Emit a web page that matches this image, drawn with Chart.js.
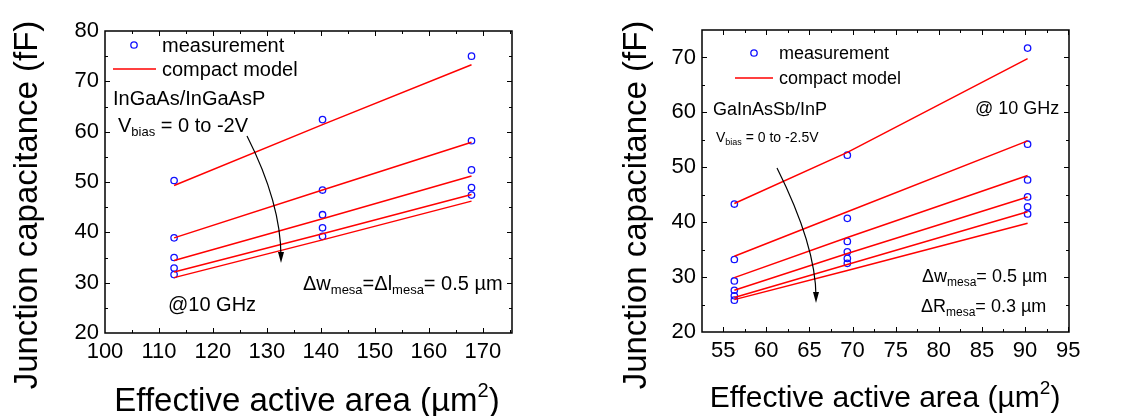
<!DOCTYPE html>
<html>
<head>
<meta charset="utf-8">
<script src="https://cdn.jsdelivr.net/npm/chart.js@4.4.0/dist/chart.umd.min.js"></script>
<style>
html, body { margin: 0; padding: 0; background: #fff; }
#wrap { position: relative; width: 1139px; height: 416px; }
.box { position: absolute; top: 0; height: 416px; }
</style>
</head>
<body>
<div id="wrap">
  <div class="box" style="left:0;width:560px"><canvas id="left"></canvas></div>
  <div class="box" style="left:560px;width:579px"><canvas id="right"></canvas></div>
</div>
<script>
// ---- left panel: InGaAs/InGaAsP, Vbias 0 .. -2V ----
const leftArea = [112.8, 140.3, 167.9];
const leftMeas = [
  [50.3, 62.4, 75.0],
  [38.9, 48.4, 58.2],
  [35.0, 43.5, 52.4],
  [32.9, 40.9, 48.9],
  [31.6, 39.2, 47.4]
];
const leftModel = [
  [49.3, 61.4, 73.3],
  [38.9, 48.4, 57.9],
  [34.4, 42.7, 51.2],
  [32.1, 39.7, 47.5],
  [31.0, 38.5, 46.2]
];
const leftXTicks = [100, 110, 120, 130, 140, 150, 160, 170];
const leftYTicks = [20, 30, 40, 50, 60, 70, 80];

// ---- right panel: GaInAsSb/InP, Vbias 0 .. -2.5V ----
const rightArea = [56.3, 69.4, 90.3];
const rightMeas = [
  [43.3, 52.2, 71.7],
  [33.2, 40.7, 54.2],
  [29.3, 36.5, 47.7],
  [27.6, 34.6, 44.6],
  [26.6, 33.4, 42.8],
  [25.8, 32.5, 41.5]
];
const rightModel = [
  [43.4, 52.7, 69.8],
  [33.8, 41.9, 54.8],
  [29.9, 37.2, 48.5],
  [27.6, 34.3, 44.6],
  [26.3, 32.3, 41.9],
  [25.9, 31.2, 39.8]
];
const rightXTicks = [55, 60, 65, 70, 75, 80, 85, 90, 95];
const rightYTicks = [20, 30, 40, 50, 60, 70];

const FONT = 'Arial, "Liberation Sans", sans-serif';
const BLUE = '#1010ff';
const RED = '#ff0000';

// draws text pieces; a piece starting with "_" is a subscript
function rich(ctx, parts, x, y, size) {
  ctx.textAlign = 'left';
  ctx.textBaseline = 'middle';
  for (const p of parts) {
    const sub = p.startsWith('_');
    const t = sub ? p.slice(1) : p;
    ctx.font = (sub ? Math.round(size * 0.65) : size) + 'px ' + FONT;
    ctx.fillText(t, x, sub ? y + size * 0.33 : y);
    x += ctx.measureText(t).width;
  }
}

function minorsOf(ticks, min, max) {
  const step = ticks[1] - ticks[0];
  const out = [];
  for (let i = -1; i < ticks.length; i++) {
    const v = ticks[0] + step * (i + 0.5);
    if (v > min && v < max) out.push(v);
  }
  return out;
}

const deco = {
  id: 'deco',
  afterDatasetsDraw(chart, args, o) {
    const { ctx, chartArea: a, scales: { x, y } } = chart;
    ctx.save();
    ctx.strokeStyle = '#000';
    ctx.fillStyle = '#000';

    // inward ticks on all four sides
    ctx.lineWidth = 1;
    const tick = (vals, len) => {
      vals.forEach(v => {
        const px = Math.round(x.getPixelForValue(v)) + 0.5;
        ctx.beginPath();
        ctx.moveTo(px, a.bottom); ctx.lineTo(px, a.bottom - len);
        ctx.moveTo(px, a.top); ctx.lineTo(px, a.top + len);
        ctx.stroke();
      });
    };
    const ytick = (vals, len) => {
      vals.forEach(v => {
        const py = Math.round(y.getPixelForValue(v)) + 0.5;
        ctx.beginPath();
        ctx.moveTo(a.left, py); ctx.lineTo(a.left + len, py);
        ctx.moveTo(a.right, py); ctx.lineTo(a.right - len, py);
        ctx.stroke();
      });
    };
    tick(o.xTicks.filter(v => v > x.min && v < x.max), 5);
    tick(minorsOf(o.xTicks, x.min, x.max), 3);
    ytick(o.yTicks.filter(v => v > y.min && v < y.max), 5);
    ytick(minorsOf(o.yTicks, y.min, y.max), 3);

    // frame
    ctx.lineWidth = 1.5;
    ctx.strokeRect(a.left, a.top, a.right - a.left, a.bottom - a.top);

    // legend
    const lg = o.legend;
    ctx.strokeStyle = BLUE; ctx.lineWidth = 1.3;
    ctx.beginPath(); ctx.arc(lg.cx, lg.cy, 3.2, 0, Math.PI * 2); ctx.stroke();
    ctx.strokeStyle = RED; ctx.lineWidth = 1.5;
    ctx.beginPath(); ctx.moveTo(lg.lx0, lg.ly); ctx.lineTo(lg.lx1, lg.ly); ctx.stroke();
    ctx.fillStyle = '#000';
    rich(ctx, ['measurement'], lg.tx, lg.cy + 1, lg.size);
    rich(ctx, ['compact model'], lg.tx, lg.ly + 1, lg.size);

    // annotations
    o.notes.forEach(n => rich(ctx, n.parts, n.x, n.y, n.size));

    // curved arrow
    const ar = o.arrow;
    ctx.strokeStyle = '#000'; ctx.lineWidth = 1.2;
    ctx.beginPath();
    ctx.moveTo(ar[0], ar[1]);
    ctx.quadraticCurveTo(ar[2], ar[3], ar[4], ar[5] - 6);
    ctx.stroke();
    ctx.beginPath();
    ctx.moveTo(ar[4] - 3, ar[5] - 11);
    ctx.lineTo(ar[4] + 3, ar[5] - 11);
    ctx.lineTo(ar[4], ar[5]);
    ctx.closePath();
    ctx.fill();

    // axis titles
    const t = o.titles;
    ctx.save();
    ctx.translate(t.yx, t.yy);
    ctx.rotate(-Math.PI / 2);
    ctx.font = t.ySize + 'px ' + FONT;
    ctx.textAlign = 'center';
    ctx.textBaseline = 'middle';
    ctx.fillText('Junction capacitance (fF)', 0, 0);
    ctx.restore();

    ctx.textBaseline = 'alphabetic';
    ctx.textAlign = 'left';
    const big = t.xSize + 'px ' + FONT, small = Math.round(t.xSize * 0.62) + 'px ' + FONT;
    ctx.font = big;
    const w1 = ctx.measureText('Effective active area (\u00b5m').width;
    const w3 = ctx.measureText(')').width;
    ctx.font = small;
    const w2 = ctx.measureText('2').width;
    let sx = t.xx - (w1 + w2 + w3) / 2;
    ctx.font = big;
    ctx.fillText('Effective active area (\u00b5m', sx, t.xy);
    sx += w1;
    ctx.font = small;
    ctx.fillText('2', sx, t.xy - t.xSize * 0.42);
    sx += w2;
    ctx.font = big;
    ctx.fillText(')', sx, t.xy);
    ctx.restore();
  }
};

function makePanel(id, p) {
  const datasets = [];
  p.model.forEach(m => datasets.push({
    data: p.area.map((v, i) => ({ x: v, y: m[i] })),
    showLine: true,
    borderColor: RED,
    borderWidth: 1.5,
    pointRadius: 0,
    tension: 0
  }));
  p.meas.forEach(m => datasets.push({
    data: p.area.map((v, i) => ({ x: v, y: m[i] })),
    showLine: false,
    pointStyle: 'circle',
    pointRadius: 3.2,
    pointBorderWidth: 1.3,
    borderColor: BLUE,
    backgroundColor: 'rgba(0,0,0,0)',
    clip: false
  }));

  return new Chart(document.getElementById(id), {
    type: 'scatter',
    data: { datasets },
    plugins: [deco],
    options: {
      responsive: true,
      maintainAspectRatio: false,
      animation: false,
      devicePixelRatio: 1,
      layout: { padding: { top: p.top, right: p.right, left: 0, bottom: 0 } },
      plugins: {
        legend: { display: false },
        tooltip: { enabled: false },
        deco: p.deco
      },
      scales: {
        x: {
          type: 'linear',
          min: p.xMin, max: p.xMax,
          afterBuildTicks: s => { s.ticks = p.xTicks.map(v => ({ value: v })); },
          afterFit: s => { s.height = p.xH; },
          grid: { display: false, drawTicks: false },
          border: { display: false },
          ticks: { color: '#000', padding: 6, maxRotation: 0, autoSkip: false,
                   font: { family: FONT, size: 22 } }
        },
        y: {
          type: 'linear',
          min: p.yMin, max: p.yMax,
          afterBuildTicks: s => { s.ticks = p.yTicks.map(v => ({ value: v })); },
          afterFit: s => { s.width = p.yW; },
          grid: { display: false, drawTicks: false },
          border: { display: false },
          ticks: { color: '#000', padding: 6, font: { family: FONT, size: 22 } }
        }
      }
    }
  });
}

makePanel('left', {
  area: leftArea, meas: leftMeas, model: leftModel,
  xTicks: leftXTicks, yTicks: leftYTicks,
  xMin: 100, xMax: 175.4, yMin: 20, yMax: 80,
  top: 31, right: 48, yW: 105, xH: 83,
  deco: {
    xTicks: leftXTicks, yTicks: leftYTicks,
    legend: { cx: 134, cy: 45, lx0: 113, lx1: 156, ly: 69, tx: 162, size: 20 },
    notes: [
      { parts: ['InGaAs/InGaAsP'], x: 113, y: 99, size: 20 },
      { parts: ['V', '_bias', ' = 0 to -2V'], x: 118, y: 126, size: 20 },
      { parts: ['@10 GHz'], x: 168, y: 305, size: 20 },
      { parts: ['\u0394w', '_mesa', '=\u0394l', '_mesa', '= 0.5 \u00b5m'], x: 303, y: 284, size: 20 }
    ],
    arrow: [247, 136, 281, 203, 281, 263],
    titles: { yx: 28, yy: 205, ySize: 33, xx: 307, xy: 411, xSize: 33 }
  }
});

makePanel('right', {
  area: rightArea, meas: rightMeas, model: rightModel,
  xTicks: rightXTicks, yTicks: rightYTicks,
  xMin: 52.55, xMax: 95.1, yMin: 20, yMax: 75,
  top: 30, right: 70, yW: 142, xH: 84,
  deco: {
    xTicks: rightXTicks, yTicks: rightYTicks,
    legend: { cx: 194, cy: 53, lx0: 175, lx1: 213, ly: 78, tx: 219, size: 18 },
    notes: [
      { parts: ['GaInAsSb/InP'], x: 153, y: 110, size: 18 },
      { parts: ['V', '_bias', ' = 0 to -2.5V'], x: 156, y: 138, size: 14 },
      { parts: ['@ 10 GHz'], x: 415, y: 109, size: 18 },
      { parts: ['\u0394w', '_mesa', '= 0.5 \u00b5m'], x: 362, y: 277, size: 18 },
      { parts: ['\u0394R', '_mesa', '= 0.3 \u00b5m'], x: 361, y: 307, size: 18 }
    ],
    arrow: [217, 168, 256, 246, 256, 303],
    titles: { yx: 77, yy: 205, ySize: 33, xx: 325, xy: 407, xSize: 30 }
  }
});
</script>
</body>
</html>
